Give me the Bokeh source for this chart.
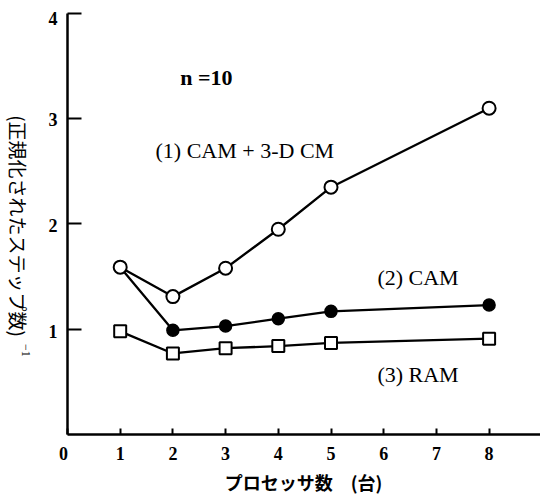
import math
from bokeh.plotting import figure
from bokeh.models import Range1d, FixedTicker, Label, LinearAxis
from bokeh.core.properties import value
from bokeh.embed import file_html
from bokeh.resources import INLINE

# ---- data ----
processors = [1, 2, 3, 4, 5, 8]
cam_3dcm = [1.59, 1.31, 1.58, 1.95, 2.35, 3.10]          # (1) open circles
cam = [1.59, 0.99, 1.03, 1.10, 1.17, 1.23]               # (2) filled circles (first point shared)
ram = [0.98, 0.77, 0.82, 0.84, 0.87, 0.91]               # (3) open squares
x_ticks = [0, 1, 2, 3, 4, 5, 6, 7, 8]
y_ticks = [1, 2, 3, 4]
x_title = "プロセッサ数　(台)"
y_title = "(正規化されたステップ数)"
y_title_sup = "−1"
series_labels = ["(1) CAM + 3-D CM", "(2) CAM", "(3) RAM"]
note = "n =10"

SERIF = "Liberation Serif"
CJK = "Noto Sans CJK JP"

p = figure(width=540, height=501, output_backend="svg", toolbar_location=None,
           x_range=Range1d(-1.2713, 8.9753), y_range=Range1d(-0.6366, 4.1235),
           x_axis_location=None, y_axis_location=None)
p.min_border_left = 0
p.min_border_right = 0
p.min_border_top = 0
p.min_border_bottom = 0
p.outline_line_color = None
p.grid.visible = False
p.background_fill_color = "white"
p.border_fill_color = "white"

# axes placed at the data origin
xa = LinearAxis(fixed_location=0, bounds=(0, 9.2), ticker=FixedTicker(ticks=x_ticks))
xa.axis_line_width = 2.5
xa.axis_line_color = "black"
xa.major_tick_in = 6
xa.major_tick_out = 0
xa.major_tick_line_width = 2
xa.minor_tick_line_color = None
xa.major_label_text_color = None
p.add_layout(xa, "below")

ya = LinearAxis(fixed_location=0, bounds=(0, 4), ticker=FixedTicker(ticks=y_ticks))
ya.axis_line_width = 2.5
ya.axis_line_color = "black"
ya.major_tick_in = 14
ya.major_tick_out = 0
ya.major_tick_line_width = 2
ya.minor_tick_line_color = None
ya.major_label_text_color = None
p.add_layout(ya, "left")

# tick labels
p.text(x=x_ticks, y=[0] * len(x_ticks), text=[str(t) for t in x_ticks],
       text_font=value(SERIF), text_font_style="bold", text_font_size="18px",
       text_align="center", text_baseline="middle", y_offset=19,
       x_offset=[-4] + [0] * (len(x_ticks) - 1), text_color="black")
p.text(x=[0] * len(y_ticks), y=y_ticks, text=[str(t) for t in y_ticks],
       text_font=value(SERIF), text_font_style="bold", text_font_size="18px",
       text_align="right", text_baseline="middle", x_offset=-10,
       y_offset=[2, 2, 1, 5], text_color="black")

# series lines
p.line(processors, cam_3dcm, line_color="black", line_width=2.3)
p.line(processors, cam, line_color="black", line_width=2.3)
p.line(processors, ram, line_color="black", line_width=2.3)

# markers
p.scatter(processors[1:], cam[1:], marker="circle", size=12,
          fill_color="black", line_color="black", line_width=1.5)
p.scatter(processors, ram, marker="square", size=12,
          fill_color="white", line_color="black", line_width=2)
p.scatter(processors, cam_3dcm, marker="circle", size=13,
          fill_color="white", line_color="black", line_width=2)

# text annotations
def txt(x, y, s, size="22px", font=SERIF, align="left", angle=0.0, style="normal",
        x_offset=0, y_offset=0):
    p.add_layout(Label(x=x, y=y, text=s, text_font=font, text_font_size=size,
                       text_align=align, text_baseline="middle", angle=angle,
                       text_color="black", text_font_style=style,
                       x_offset=x_offset, y_offset=y_offset))

txt(2.14, 3.39, note, size="22px", style="bold")
txt(1.67, 2.70, series_labels[0])
txt(5.88, 1.49, series_labels[1])
txt(5.88, 0.57, series_labels[2])

txt(4.48, -0.456, x_title, size="18px", font=CJK, align="center", style="bold")
txt(-0.93, 1.98, y_title, size="19px", font=CJK, align="center", angle=-math.pi / 2)
txt(-0.93, 1.98, y_title_sup, size="12px", font=SERIF, align="left",
    angle=-math.pi / 2, x_offset=8, y_offset=-118)

open("out.html", "w").write(file_html(p, INLINE))
